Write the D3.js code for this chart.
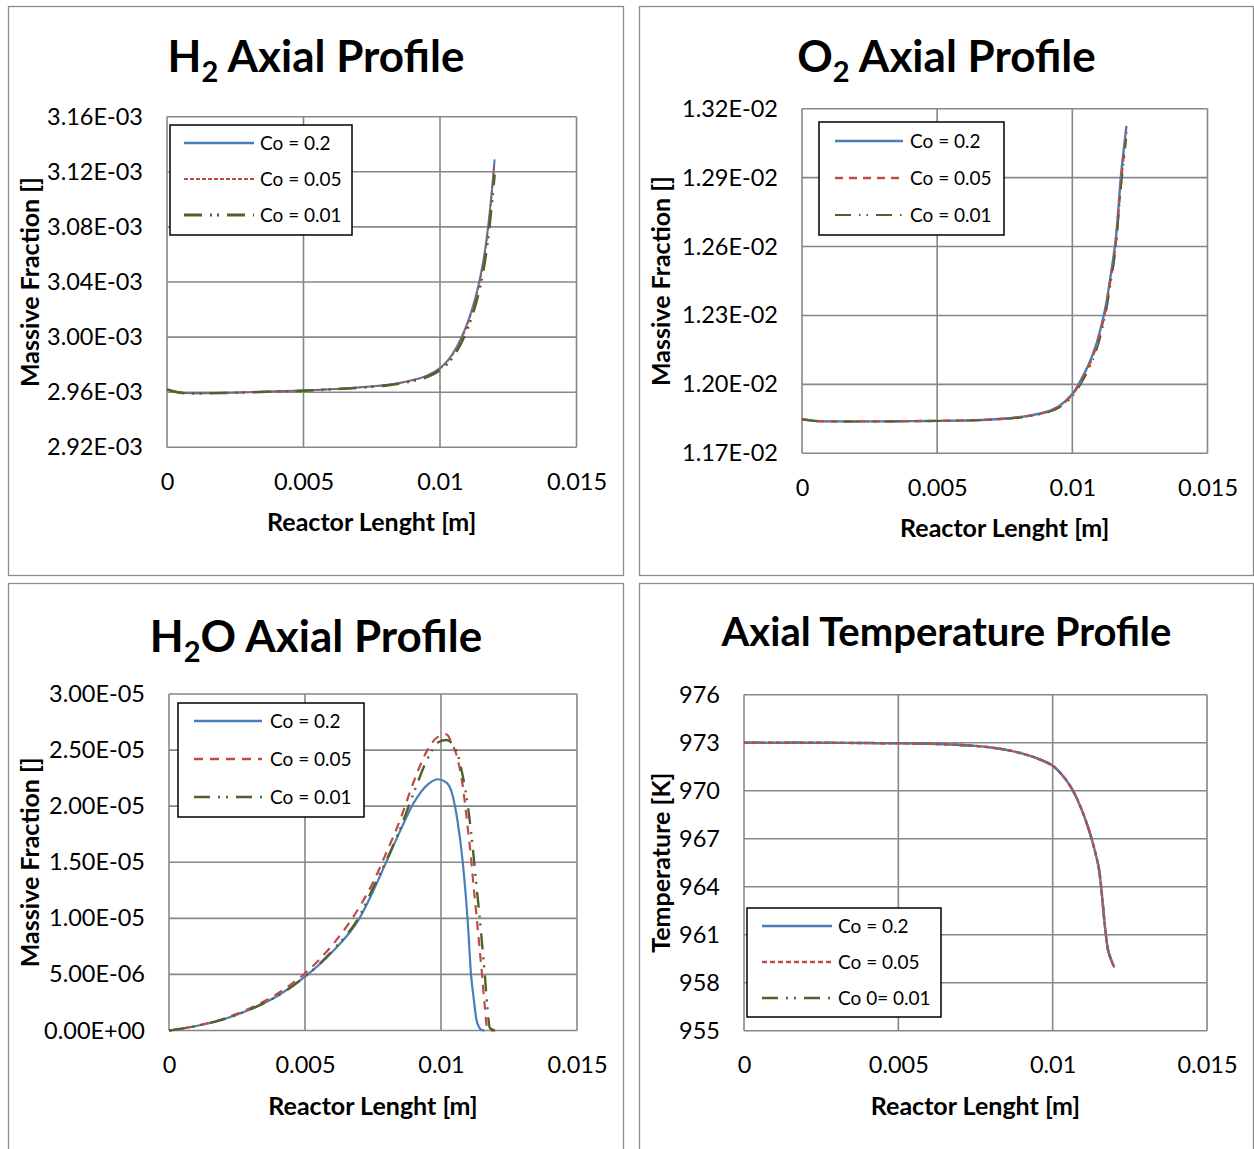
<!DOCTYPE html>
<html>
<head>
<meta charset="utf-8">
<script src="https://cdn.jsdelivr.net/npm/d3@7"></script>
<style>
  html, body { margin: 0; padding: 0; background: #fff; }
  svg { display: block; font-family: Lato, "Open Sans", sans-serif; }
</style>
</head>
<body>
<svg id="chart" width="1254" height="1149"></svg>
<script>
// ---------- data ----------
const xTicks = [0, 0.005, 0.01, 0.015];
const xTickLabels = ["0", "0.005", "0.01", "0.015"];
const seriesNames = ["Co = 0.2", "Co = 0.05", "Co = 0.01"];
const tempSeriesNames = ["Co = 0.2", "Co = 0.05", "Co 0= 0.01"];

// H2 mass fraction (x 1e-3)
const h2X = [0, 0.0005, 0.001, 0.002, 0.003, 0.004, 0.005, 0.006, 0.007, 0.008, 0.0085, 0.009, 0.0095, 0.01, 0.0103, 0.0106, 0.0109, 0.0112, 0.0114, 0.0116, 0.0118, 0.012];
const h2Co02  = [2.9622, 2.9597, 2.9592, 2.9595, 2.9600, 2.9606, 2.9613, 2.9622, 2.9634, 2.9652, 2.9667, 2.9688, 2.9718, 2.9775, 2.9835, 2.9925, 3.0050, 3.0220, 3.0370, 3.0570, 3.0870, 3.1290];
const h2Co005 = [2.9622, 2.9597, 2.9592, 2.9595, 2.9600, 2.9606, 2.9613, 2.9622, 2.9634, 2.9651, 2.9666, 2.9686, 2.9716, 2.9771, 2.9828, 2.9915, 3.0037, 3.0205, 3.0352, 3.0550, 3.0845, 3.1260];
const h2Co001 = [2.9620, 2.9596, 2.9591, 2.9594, 2.9599, 2.9605, 2.9611, 2.9620, 2.9631, 2.9648, 2.9662, 2.9681, 2.9708, 2.9760, 2.9812, 2.9893, 3.0008, 3.0168, 3.0308, 3.0497, 3.0780, 3.1180];
const h2YTicks = [2.92, 2.96, 3.00, 3.04, 3.08, 3.12, 3.16];
const h2YTickLabels = ["2.92E-03", "2.96E-03", "3.00E-03", "3.04E-03", "3.08E-03", "3.12E-03", "3.16E-03"];

// O2 mass fraction (x 1e-2)
const o2X = [0, 0.0005, 0.001, 0.002, 0.003, 0.004, 0.005, 0.006, 0.007, 0.008, 0.0085, 0.009, 0.0095, 0.01, 0.0103, 0.0106, 0.0109, 0.0112, 0.0114, 0.0116, 0.0117, 0.0118, 0.0119, 0.012];
const o2Co02  = [1.1848, 1.1841, 1.1839, 1.1839, 1.1839, 1.1840, 1.1841, 1.1843, 1.1847, 1.1857, 1.1866, 1.1879, 1.1905, 1.1958, 1.2015, 1.2085, 1.2180, 1.2320, 1.2460, 1.2625, 1.2760, 1.2910, 1.3020, 1.3125];
const o2Co005 = [1.1848, 1.1841, 1.1839, 1.1839, 1.1839, 1.1840, 1.1841, 1.1843, 1.1847, 1.1856, 1.1865, 1.1878, 1.1903, 1.1955, 1.2010, 1.2078, 1.2170, 1.2308, 1.2446, 1.2608, 1.2740, 1.2885, 1.2995, 1.3100];
const o2Co001 = [1.1847, 1.1840, 1.1838, 1.1838, 1.1838, 1.1839, 1.1840, 1.1842, 1.1846, 1.1854, 1.1862, 1.1874, 1.1897, 1.1945, 1.1998, 1.2062, 1.2150, 1.2285, 1.2420, 1.2580, 1.2710, 1.2850, 1.2960, 1.3070];
const o2YTicks = [1.17, 1.20, 1.23, 1.26, 1.29, 1.32];
const o2YTickLabels = ["1.17E-02", "1.20E-02", "1.23E-02", "1.26E-02", "1.29E-02", "1.32E-02"];

// H2O mass fraction (x 1e-5); null = past the end of that run
const h2oX = [0, 0.001, 0.002, 0.003, 0.004, 0.005, 0.006, 0.007, 0.0075, 0.008, 0.0085, 0.009, 0.0095, 0.0099, 0.0102, 0.0104, 0.0106, 0.0108, 0.011, 0.0111, 0.0112, 0.0113, 0.0114, 0.0115, 0.0116, 0.0117, 0.0118, 0.012];
const h2oCo02  = [0, 0.04, 0.10, 0.19, 0.31, 0.48, 0.70, 1.00, 1.24, 1.51, 1.78, 2.03, 2.19, 2.24, 2.21, 2.12, 1.88, 1.50, 0.91, 0.51, 0.29, 0.10, 0.03, 0.005, 0, null, null, null];
const h2oCo005 = [0, 0.04, 0.105, 0.20, 0.33, 0.51, 0.76, 1.10, 1.32, 1.59, 1.88, 2.22, 2.50, 2.62, 2.64, 2.56, 2.43, 2.18, 1.77, 1.55, 1.28, 1.04, 0.78, 0.52, 0.24, 0.02, 0, 0];
const h2oCo001 = [0, 0.04, 0.10, 0.19, 0.31, 0.48, 0.71, 1.02, 1.27, 1.52, 1.80, 2.12, 2.42, 2.57, 2.59, 2.56, 2.47, 2.27, 1.98, 1.78, 1.55, 1.30, 1.06, 0.80, 0.53, 0.22, 0.02, 0];
const h2oYTicks = [0, 0.5, 1.0, 1.5, 2.0, 2.5, 3.0];
const h2oYTickLabels = ["0.00E+00", "5.00E-06", "1.00E-05", "1.50E-05", "2.00E-05", "2.50E-05", "3.00E-05"];

// Temperature [K]
const tempX = [0, 0.001, 0.002, 0.003, 0.004, 0.005, 0.006, 0.007, 0.0075, 0.008, 0.0085, 0.009, 0.0095, 0.01, 0.0103, 0.0106, 0.0109, 0.0112, 0.0114, 0.0115, 0.0116, 0.0117, 0.0118, 0.0119, 0.012];
const tempCo02  = [973.0, 973.0, 973.0, 972.99, 972.98, 972.96, 972.93, 972.86, 972.80, 972.70, 972.55, 972.33, 972.02, 971.56, 971.0, 970.2, 969.0, 967.4, 966.0, 965.1, 963.4, 961.4, 960.0, 959.4, 958.95];
const tempCo005 = [973.0, 973.0, 973.0, 972.99, 972.98, 972.96, 972.93, 972.86, 972.80, 972.70, 972.55, 972.33, 972.02, 971.56, 971.0, 970.2, 969.0, 967.4, 966.0, 965.1, 963.4, 961.4, 960.0, 959.4, 958.95];
const tempCo001 = [973.0, 973.0, 973.0, 972.99, 972.98, 972.96, 972.93, 972.86, 972.80, 972.70, 972.55, 972.33, 972.02, 971.56, 971.0, 970.2, 969.0, 967.4, 966.0, 965.1, 963.4, 961.4, 960.0, 959.4, 958.95];
const tempYTicks = [955, 958, 961, 964, 967, 970, 973, 976];
const tempYTickLabels = ["955", "958", "961", "964", "967", "970", "973", "976"];

// ---------- styling ----------
const BLUE = "#4a7ebb", RED = "#be4b48", GREEN = "#4f6228";
const GRID = "#878787";
const smooth = d3.curveCatmullRom.alpha(0.5);

const panels = [
  {
    frame: { x: 8.5, y: 6.5, w: 615, h: 569 },
    plot: { l: 167, r: 576.5, t: 116.7, b: 447.3 },
    title: [["H", false], ["2", true], [" Axial Profile", false]], titleY: 72, titleSize: 44,
    yTitle: "Massive Fraction []", yTitleX: 39,
    x: h2X, ys: [h2Co02, h2Co005, h2Co001], names: seriesNames,
    yTicks: h2YTicks, yLabels: h2YTickLabels, curve: smooth,
    styles: [
      { c: BLUE, w: 2, d: null },
      { c: RED, w: 1.6, d: "4,2" },
      { c: GREEN, w: 2.6, d: "18,8,2,5,2,8" }
    ],
    legend: { x: 170, y: 125, w: 182, h: 110, rows: [143, 179, 215], lx1: 184, lx2: 254, tx: 260 }
  },
  {
    frame: { x: 639.5, y: 6.5, w: 614, h: 569 },
    plot: { l: 802, r: 1207.5, t: 108.7, b: 453.3 },
    title: [["O", false], ["2", true], [" Axial Profile", false]], titleY: 72, titleSize: 44,
    yTitle: "Massive Fraction []", yTitleX: 670,
    x: o2X, ys: [o2Co02, o2Co005, o2Co001], names: seriesNames,
    yTicks: o2YTicks, yLabels: o2YTickLabels, curve: smooth,
    styles: [
      { c: BLUE, w: 2.4, d: null },
      { c: RED, w: 2.4, d: "8,6" },
      { c: GREEN, w: 1.6, d: "16,8,1.5,6,1.5,8" }
    ],
    legend: { x: 819, y: 122, w: 185, h: 113, rows: [141, 178, 215], lx1: 835, lx2: 903, tx: 910 }
  },
  {
    frame: { x: 8.5, y: 583.5, w: 615, h: 600 },
    plot: { l: 169, r: 577, t: 694, b: 1030.5 },
    title: [["H", false], ["2", true], ["O Axial Profile", false]], titleY: 652, titleSize: 44,
    yTitle: "Massive Fraction []", yTitleX: 39,
    x: h2oX, ys: [h2oCo02, h2oCo005, h2oCo001], names: seriesNames,
    yTicks: h2oYTicks, yLabels: h2oYTickLabels, curve: d3.curveMonotoneX,
    styles: [
      { c: BLUE, w: 2.2, d: null },
      { c: RED, w: 2.2, d: "9,7" },
      { c: GREEN, w: 2.4, d: "16,8,2,6,2,8" }
    ],
    legend: { x: 178, y: 703, w: 186, h: 114, rows: [721, 759, 797], lx1: 194, lx2: 262, tx: 270 }
  },
  {
    frame: { x: 639.5, y: 583.5, w: 614, h: 600 },
    plot: { l: 744, r: 1207, t: 694.7, b: 1030.7 },
    title: [["Axial Temperature Profile", false]], titleY: 646, titleSize: 40,
    yTitle: "Temperature [K]", yTitleX: 670,
    x: tempX, ys: [tempCo02, tempCo005, tempCo001], names: tempSeriesNames,
    yTicks: tempYTicks, yLabels: tempYTickLabels, curve: smooth,
    styles: [
      { c: BLUE, w: 2.4, d: null },
      { c: RED, w: 2.4, d: "5,3" },
      { c: GREEN, w: 2.4, d: "16,8,2,6,2,8" }
    ],
    legend: { x: 747, y: 908, w: 194, h: 109, rows: [926, 962, 998], lx1: 762, lx2: 832, tx: 838 },
    drawOrder: [2, 0, 1]
  }
];

const svg = d3.select("#chart");

panels.forEach(p => {
  const g = svg.append("g");
  const { l, r, t, b } = p.plot;

  // chart frame
  g.append("rect")
    .attr("x", p.frame.x).attr("y", p.frame.y)
    .attr("width", p.frame.w).attr("height", p.frame.h)
    .attr("fill", "#fff").attr("stroke", "#8c8c8c").attr("stroke-width", 1.3);

  const x = d3.scaleLinear().domain([0, 0.015]).range([l, r]);
  const y = d3.scaleLinear().domain(d3.extent(p.yTicks)).range([b, t]);

  // gridlines
  g.append("g").selectAll("line").data(p.yTicks).join("line")
    .attr("x1", l).attr("x2", r)
    .attr("y1", d => y(d)).attr("y2", d => y(d))
    .attr("stroke", GRID).attr("stroke-width", 1.6);
  g.append("g").selectAll("line").data(xTicks).join("line")
    .attr("x1", d => x(d)).attr("x2", d => x(d))
    .attr("y1", t).attr("y2", b)
    .attr("stroke", GRID).attr("stroke-width", 1.6);

  // axes (labels only; grid draws the lines)
  const xAxis = g.append("g")
    .attr("transform", `translate(0,${b})`)
    .call(d3.axisBottom(x).tickValues(xTicks).tickSize(0).tickPadding(26)
      .tickFormat((d, i) => xTickLabels[i]));
  const yAxis = g.append("g")
    .attr("transform", `translate(${l},0)`)
    .call(d3.axisLeft(y).tickValues(p.yTicks).tickSize(0).tickPadding(24)
      .tickFormat((d, i) => p.yLabels[i]));
  [xAxis, yAxis].forEach(a => {
    a.select(".domain").remove();
    a.selectAll("text").attr("font-family", "Lato, sans-serif")
      .attr("font-size", 23.5).attr("fill", "#000");
  });

  // title
  const title = g.append("text")
    .attr("x", (p.frame.x + p.frame.x + p.frame.w) / 2)
    .attr("y", p.titleY)
    .attr("text-anchor", "middle")
    .attr("font-weight", 700).attr("font-size", p.titleSize).attr("fill", "#000");
  let shifted = false;
  p.title.forEach(([txt, sub]) => {
    const ts = title.append("tspan").text(txt);
    if (sub) { ts.attr("font-size", 29).attr("dy", 10); shifted = true; }
    else if (shifted) { ts.attr("dy", -10); shifted = false; }
  });

  // axis titles
  g.append("text")
    .attr("x", (l + r) / 2).attr("y", b + 84)
    .attr("text-anchor", "middle")
    .attr("font-weight", 700).attr("font-size", 25).attr("fill", "#000")
    .text("Reactor Lenght [m]");
  g.append("text")
    .attr("transform", `translate(${p.yTitleX},${(t + b) / 2}) rotate(-90)`)
    .attr("text-anchor", "middle")
    .attr("font-weight", 700).attr("font-size", 25).attr("fill", "#000")
    .text(p.yTitle);

  // series
  const order = p.drawOrder || [0, 1, 2];
  order.forEach(si => {
    const vals = p.ys[si];
    const pts = p.x.map((xv, i) => [xv, vals[i]]).filter(d => d[1] !== null);
    const line = d3.line().x(d => x(d[0])).y(d => y(d[1])).curve(p.curve);
    const st = p.styles[si];
    g.append("path")
      .attr("d", line(pts))
      .attr("fill", "none")
      .attr("stroke", st.c).attr("stroke-width", st.w)
      .attr("stroke-dasharray", st.d)
      .attr("stroke-linejoin", "round");
  });

  // legend
  const L = p.legend;
  const lg = g.append("g");
  lg.append("rect")
    .attr("x", L.x).attr("y", L.y).attr("width", L.w).attr("height", L.h)
    .attr("fill", "#fff").attr("stroke", "#000").attr("stroke-width", 1.5);
  p.names.forEach((name, i) => {
    const st = p.styles[i];
    lg.append("line")
      .attr("x1", L.lx1).attr("x2", L.lx2)
      .attr("y1", L.rows[i]).attr("y2", L.rows[i])
      .attr("stroke", st.c).attr("stroke-width", st.w + 0.3)
      .attr("stroke-dasharray", st.d);
    lg.append("text")
      .attr("x", L.tx).attr("y", L.rows[i]).attr("dy", "0.35em")
      .attr("font-size", 19).attr("fill", "#000")
      .text(name);
  });
});
</script>
</body>
</html>
